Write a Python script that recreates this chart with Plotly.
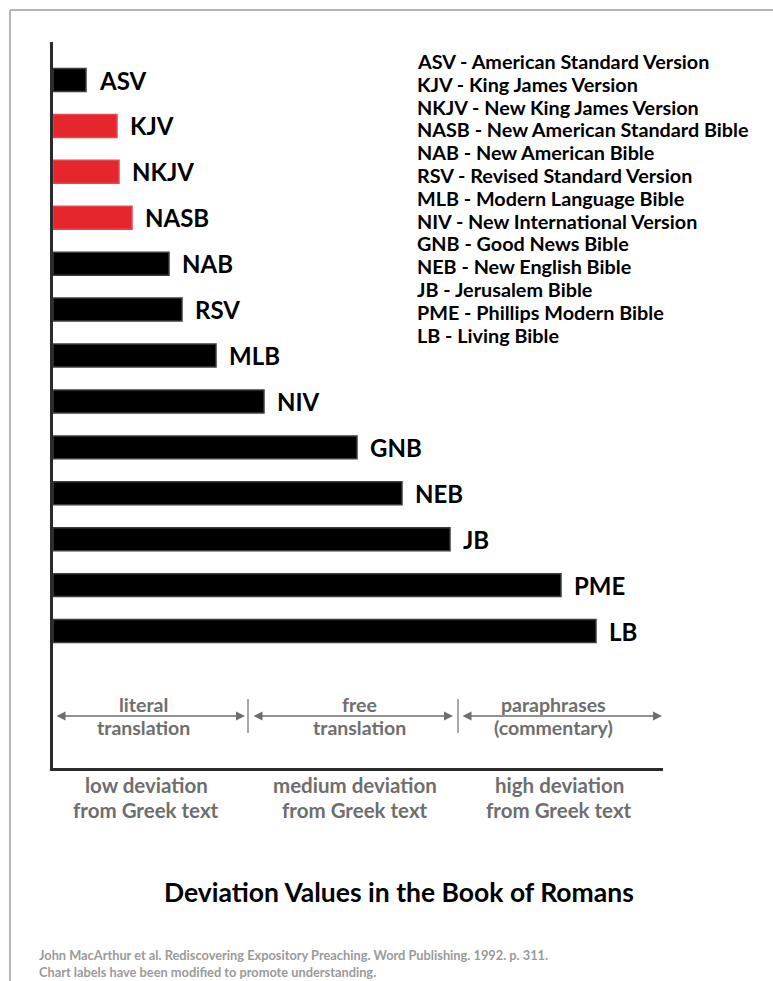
import plotly.graph_objects as go

# ---------------- data ----------------
versions = ["ASV", "KJV", "NKJV", "NASB", "NAB", "RSV", "MLB", "NIV",
            "GNB", "NEB", "JB", "PME", "LB"]
deviation = [33, 64, 66, 79, 116, 129, 163, 211, 304, 349, 397, 508, 543]
highlight = [False, True, True, True, False, False, False, False,
             False, False, False, False, False]
full_names = ["American Standard Version", "King James Version",
              "New King James Version", "New American Standard Bible",
              "New American Bible", "Revised Standard Version",
              "Modern Language Bible", "New International Version",
              "Good News Bible", "New English Bible", "Jerusalem Bible",
              "Phillips Modern Bible", "Living Bible"]
bands_top = ["literal", "free", "paraphrases"]
bands_bottom = ["translation", "translation", "(commentary)"]
deviation_levels = ["low deviation", "medium deviation", "high deviation"]
title_text = "Deviation Values in the Book of Romans"
source_lines = ["John MacArthur et al. Rediscovering Expository Preaching. Word Publishing. 1992. p. 311.",
                "Chart labels have been modified to promote understanding."]

# ---------------- layout geometry ----------------
W, H = 773, 981
L, R, T, B = 53, 663, 42, 768
FONT = "Lato, 'Open Sans', sans-serif"


def px2x(px):
    return (px - L) / (R - L)


def py2y(py):
    return (B - py) / (B - T)


RED = "#E5262D"
colors = [RED if h else "#000000" for h in highlight]
line_colors = ["#E8474D" if h else "#3c3c3c" for h in highlight]

fig = go.Figure()
fig.add_trace(go.Bar(
    y=versions, x=deviation, orientation="h",
    marker=dict(color=colors, line=dict(color=line_colors, width=1.5)),
    width=0.5, hoverinfo="x+y", showlegend=False,
))

annotations = []
# bar labels
for v, d in zip(versions, deviation):
    annotations.append(dict(x=d, y=v, xref="x", yref="y", text=f"<b>{v}</b>",
                            showarrow=False, xanchor="left", xshift=11,
                            font=dict(family=FONT, size=24, color="#000000")))

# legend text block
for i, (v, n) in enumerate(zip(versions, full_names)):
    annotations.append(dict(x=px2x(415), y=py2y(61 + 22.8 * i), xref="paper", yref="paper",
                            text=f"<b>{v} - {n}</b>", showarrow=False,
                            xanchor="left", yanchor="middle",
                            font=dict(family=FONT, size=19.8, color="#000000")))

GRAY = "#6e6e6e"
band_centers = [143, 359, 553]
for c, t1, t2 in zip(band_centers, bands_top, bands_bottom):
    annotations.append(dict(x=px2x(c), y=py2y(704), xref="paper", yref="paper",
                            text=f"<b>{t1}</b>", showarrow=False,
                            xanchor="center", yanchor="middle",
                            font=dict(family=FONT, size=19.5, color=GRAY)))
    annotations.append(dict(x=px2x(c), y=py2y(727), xref="paper", yref="paper",
                            text=f"<b>{t2}</b>", showarrow=False,
                            xanchor="center", yanchor="middle",
                            font=dict(family=FONT, size=19.5, color=GRAY)))

# double-headed arrows
arrow_spans = [(55, 245), (252, 453), (461, 662)]
for a, b in arrow_spans:
    annotations.append(dict(x=px2x(b), y=py2y(716), xref="paper", yref="paper",
                            ax=a - b, ay=0, axref="pixel", ayref="pixel",
                            text="", showarrow=True, arrowhead=2, arrowsize=1.2,
                            arrowwidth=1.5, arrowcolor=GRAY, arrowside="end+start",
                            standoff=0, startstandoff=0))

level_centers = [146, 355, 559]
for c, t in zip(level_centers, deviation_levels):
    annotations.append(dict(x=px2x(c), y=py2y(785), xref="paper", yref="paper",
                            text=f"<b>{t}</b>", showarrow=False,
                            xanchor="center", yanchor="middle",
                            font=dict(family=FONT, size=20.5, color=GRAY)))
    annotations.append(dict(x=px2x(c), y=py2y(810), xref="paper", yref="paper",
                            text="<b>from Greek text</b>", showarrow=False,
                            xanchor="center", yanchor="middle",
                            font=dict(family=FONT, size=20.5, color=GRAY)))

annotations.append(dict(x=px2x(399), y=py2y(892), xref="paper", yref="paper",
                        text=f"<b>{title_text}</b>", showarrow=False,
                        xanchor="center", yanchor="middle",
                        font=dict(family=FONT, size=26.5, color="#000000")))

annotations.append(dict(x=px2x(37), y=py2y(945), xref="paper", yref="paper",
                        text="<br>".join(f"<b>{s}</b>" for s in source_lines),
                        showarrow=False, xanchor="left", yanchor="top", align="left",
                        font=dict(family=FONT, size=12.8, color="#9a9a9a")))

shapes = []
# separators between bands
for sx in [248, 458]:
    shapes.append(dict(type="line", xref="paper", yref="paper",
                       x0=px2x(sx), x1=px2x(sx), y0=py2y(699), y1=py2y(733),
                       line=dict(color=GRAY, width=1.2)))
# page border (top and left)
shapes.append(dict(type="line", xref="paper", yref="paper",
                   x0=px2x(10), x1=px2x(775), y0=py2y(10), y1=py2y(10),
                   line=dict(color="#b5b5b5", width=2)))
shapes.append(dict(type="line", xref="paper", yref="paper",
                   x0=px2x(10), x1=px2x(10), y0=py2y(10), y1=py2y(985),
                   line=dict(color="#b5b5b5", width=2)))

spacing = 45.92
top_idx = (T - 80) / spacing
bot_idx = (B - 80) / spacing

fig.update_layout(
    width=W, height=H,
    margin=dict(l=L, r=W - R, t=T, b=H - B, pad=0),
    paper_bgcolor="white", plot_bgcolor="white",
    xaxis=dict(range=[0, R - L], showgrid=False, zeroline=False, showticklabels=False,
               ticks="", showline=True, linecolor="#2b2b2b", linewidth=3, fixedrange=True),
    yaxis=dict(type="category", categoryarray=versions, range=[bot_idx, top_idx],
               showgrid=False, zeroline=False, showticklabels=False, ticks="",
               showline=True, linecolor="#2b2b2b", linewidth=3, fixedrange=True),
    annotations=annotations, shapes=shapes,
    bargap=0.5,
)

fig.write_html("out.html", config={"displayModeBar": False},
               post_script="document.body.style.margin='0';document.body.style.overflow='hidden';")
